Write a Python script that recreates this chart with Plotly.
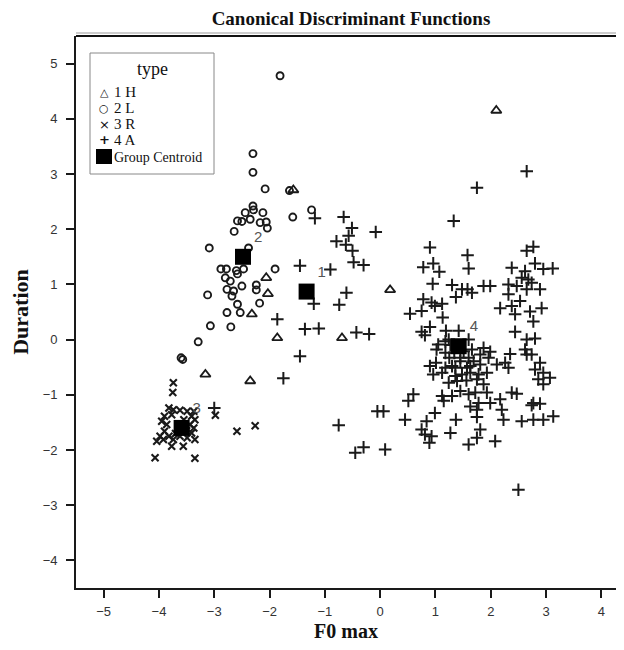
import plotly.graph_objects as go

# ---- data ----
h_x = [2.10, -1.57, -2.06, -2.03, -2.32, -1.86, 0.18, -0.69, -3.16, -2.35]
h_y = [4.15, 2.71, 1.12, 0.83, 0.46, 0.03, 0.90, 0.03, -0.63, -0.75]

l_x = [-2.30, -2.30, -2.08, -1.64, -2.30, -2.29, -2.44, -2.12, -2.35, -2.58, -2.50, -2.17, -2.06, -2.04,
       -1.58, -1.24, -2.64, -3.09, -2.38, -2.88, -2.78, -2.60, -2.47, -1.90, -2.80, -2.71, -2.58, -2.50,
       -2.77, -2.65, -2.68, -2.24, -2.24, -3.12, -2.58, -2.18, -2.77, -2.53, -3.07, -2.70, -3.29, -1.81,
       -3.60, -3.57]
l_y = [3.37, 3.03, 2.73, 2.70, 2.42, 2.35, 2.30, 2.30, 2.18, 2.15, 2.14, 2.12, 2.13, 2.02,
       2.22, 2.35, 1.96, 1.66, 1.66, 1.28, 1.28, 1.25, 1.28, 1.28, 1.12, 1.06, 1.19, 0.97,
       0.91, 0.88, 0.79, 0.99, 0.90, 0.81, 0.64, 0.66, 0.49, 0.49, 0.25, 0.23, -0.04, 4.78,
       -0.33, -0.36]

r_x = [-3.74, -3.75, -3.82, -3.74, -3.62, -3.49, -3.37, -3.90, -3.77, -3.41, -3.35, -3.95, -3.86, -3.44,
       -3.37, -3.41, -3.90, -3.98, -3.82, -4.04, -3.92, -3.74, -3.49, -3.35, -3.77, -3.56, -4.07, -3.35,
       -2.98, -2.59, -2.26, -3.55, -3.65, -3.70, -3.50, -3.62]
r_y = [-0.78, -0.96, -1.24, -1.27, -1.28, -1.30, -1.30, -1.39, -1.36, -1.39, -1.45, -1.48, -1.54, -1.54,
       -1.60, -1.69, -1.66, -1.75, -1.75, -1.84, -1.81, -1.81, -1.78, -1.81, -1.93, -1.93, -2.14, -2.15,
       -1.37, -1.66, -1.56, -1.45, -1.55, -1.70, -1.65, -1.75]

a_x = [0.90, 1.58, 0.78, 0.96, 1.07, 1.60, 0.95, 1.30, 1.48, 1.58, 1.66, 1.87, 1.99, 1.37, 0.78, 0.93,
       1.12, 0.99, 0.54, 0.75, 1.13, 0.90, 0.75, 0.81, 1.19, 1.42, 1.05, 1.02, 1.24, 1.60, 1.18, 1.66,
       1.87, 1.99, 0.90, 1.01, 0.96, 1.12, 1.30, 1.45, 1.57, 1.69, 1.81, 1.96, 2.11, 2.26, 2.32, 1.36,
       1.48, 1.63, 1.78, 1.93, 1.24, 1.39, 1.56, 1.75, 1.87, 1.45, 1.60, 1.72, 1.93, 0.60, 0.51, 1.12,
       1.15, 1.30, 1.78, 1.63, 1.99, 2.17, 2.38, 2.47, 1.75, 2.20, 0.99, 0.45, 0.84, 1.37, 1.75, 2.23,
       0.75, 0.81, 0.93, 0.89, 1.27, 1.81, 1.75, 1.60, 2.08, 2.56, 2.77, 2.95, 3.13, 2.74, 2.89, 0.09,
       0.06, 2.65, 2.77, 2.38, 2.62, 2.80, 2.95, 3.12, 2.56, 2.68, 2.74, 2.32, 2.47, 2.65, 2.89, 2.32,
       2.53, 2.38, 2.17, 2.44, 2.71, 2.92, 2.77, 2.44, 2.65, 2.80, 2.62, 2.65, 2.74, 2.35, 2.89, 2.80,
       2.95, 2.86, 3.07, 2.95, 2.77, 1.33, 1.18, 1.27, 1.34, 1.51, 1.45, 1.25, 1.60, 1.81, 1.36,
       1.18, 1.63, -1.18, -0.66, -0.51, -0.57, -0.79, -0.62, -0.50, -0.48, -1.45, -0.90, -0.61, -1.20,
       -0.74, -1.86, -1.36, -1.11, -0.43, -0.08, -0.20, -0.30, 2.65, 1.75, -1.45, -1.75, -0.75, -0.45,
       -0.30, -0.05, 2.50, -3.00]
a_y = [1.67, 1.53, 1.31, 1.38, 1.23, 1.29, 1.01, 0.99, 0.91, 0.91, 0.85, 0.97, 0.97, 0.77, 0.73, 0.67,
       0.65, 0.61, 0.47, 0.52, 0.40, 0.23, 0.14, 0.08, 0.16, 0.16, -0.09, -0.18, 0.00, 0.00, -0.24, -0.18,
       -0.15, -0.22, -0.48, -0.42, -0.63, -0.60, -0.48, -0.39, -0.51, -0.39, -0.45, -0.33, -0.45, -0.42,
       -0.51, -0.66, -0.63, -0.60, -0.63, -0.60, -0.78, -0.75, -0.74, -0.72, -0.81, -0.93, -0.99, -0.96,
       -0.96, -0.99, -1.11, -1.02, -1.11, -1.02, -1.15, -1.21, -1.15, -1.08, -0.96, -0.98, -1.27, -1.27,
       -1.33, -1.45, -1.48, -1.45, -1.40, -1.45, -1.63, -1.72, -1.75, -1.87, -1.69, -1.63, -1.78, -1.90,
       -1.84, -1.48, -1.45, -1.45, -1.39, -1.19, -1.16, -1.99, -1.30, 1.61, 1.68, 1.30, 1.24, 1.38, 1.28,
       1.29, 1.12, 1.09, 1.03, 1.00, 0.97, 0.91, 0.91, 0.82, 0.70, 0.61, 0.57, 0.46, 0.51, 0.57, 0.33,
       0.14, 0.00, 0.02, -0.18, -0.27, -0.27, -0.26, -0.42, -0.54, -0.60, -0.72, -0.69, -0.81, -1.15,
       2.15, -0.03, -0.10, -0.24, -0.21, -0.33, -0.33, -0.33, -0.27, -0.51, -0.51, -0.48, 2.20, 2.22,
       2.02, 1.88, 1.78, 1.72, 1.61, 1.40, 1.34, 1.27, 0.85, 0.65, 0.63, 0.37, 0.19, 0.20, 0.13, 1.95,
       0.10, 1.35, 3.05, 2.75, -0.30, -0.70, -1.55, -2.05, -1.95, -1.30, -2.72, -1.24]

cen_x = [-1.33, -2.48, -3.59, 1.42]
cen_y = [0.87, 1.50, -1.60, -0.12]
cen_labels = ["1", "2", "3", "4"]

x_ticks = [-5, -4, -3, -2, -1, 0, 1, 2, 3, 4]
y_ticks = [-4, -3, -2, -1, 0, 1, 2, 3, 4, 5]

# ---- layout geometry (pixels) ----
OFF = 8                      # page body margin in the browser
W, H = 608, 634
ML, MR, MT, MB = 68, 0, 28, 54
PW, PH = W - ML - MR, H - MT - MB
UNIT_X = 55.3
X0 = -5.5
X1 = X0 + PW / UNIT_X


def px(xs):
    """screen x -> paper"""
    return (xs - OFF - ML) / PW


def py(ys):
    """screen y -> paper"""
    return (H - MB - (ys - OFF)) / PH


ink = "#1a1a1a"
fig = go.Figure()
fig.add_trace(go.Scatter(x=h_x, y=h_y, mode="markers", name="1 H",
                         marker=dict(symbol="triangle-up-open", size=9, color=ink, line=dict(width=1.8, color=ink))))
fig.add_trace(go.Scatter(x=l_x, y=l_y, mode="markers", name="2 L",
                         marker=dict(symbol="circle-open", size=7, color=ink, line=dict(width=1.9, color=ink))))
fig.add_trace(go.Scatter(x=r_x, y=r_y, mode="markers", name="3 R",
                         marker=dict(symbol="x-thin-open", size=7, color=ink, line=dict(width=2.1, color=ink))))
fig.add_trace(go.Scatter(x=a_x, y=a_y, mode="markers", name="4 A",
                         marker=dict(symbol="cross-thin-open", size=9, color=ink, line=dict(width=2.0, color=ink))))
fig.add_trace(go.Scatter(x=cen_x, y=cen_y, mode="markers+text", name="Group Centroid",
                         text=cen_labels, textposition="top right",
                         textfont=dict(family="Liberation Sans", size=15, color="#555555"),
                         marker=dict(symbol="square", size=16, color="#000000")))

axis_common = dict(showgrid=False, zeroline=False, showline=True, linecolor=ink, linewidth=1.6,
                   ticks="outside", ticklen=8, tickwidth=1.6, tickcolor=ink,
                   tickfont=dict(family="Liberation Sans", size=13, color="#333333"))

fig.update_layout(
    width=W, height=H,
    margin=dict(l=ML, r=MR, t=MT, b=MB),
    paper_bgcolor="white", plot_bgcolor="white",
    showlegend=False,
    title=dict(text="<b>Canonical Discriminant Functions</b>", x=(351 - OFF) / W, xanchor="center",
               y=1 - (18 - OFF) / H, yanchor="middle",
               font=dict(family="Liberation Serif", size=19, color="#111111")),
    xaxis=dict(range=[X0, X1], tickvals=x_ticks, ticklabelstandoff=3,
               title=dict(text="<b>F0 max</b>", standoff=6,
                          font=dict(family="Liberation Serif", size=20, color="#111111")),
               **axis_common),
    yaxis=dict(range=[-4.5, 5.5], tickvals=y_ticks, ticklabelstandoff=6,
               title=dict(text="<b>Duration</b>", standoff=10,
                          font=dict(family="Liberation Serif", size=22, color="#111111")),
               **axis_common),
)

# top frame line (double)
fig.add_shape(type="line", xref="paper", yref="paper", x0=0, x1=1, y0=1, y1=1,
              line=dict(color="#111111", width=2))
fig.add_shape(type="line", xref="paper", yref="paper", x0=0, x1=1, y0=py(33), y1=py(33),
              line=dict(color="#9a9a9a", width=1))

# legend box (drawn manually to match the reference layout)
fig.add_shape(type="rect", xref="paper", yref="paper", x0=px(90), x1=px(214), y0=py(174), y1=py(53),
              line=dict(color="#888888", width=1), fillcolor="white", layer="above")
fig.add_annotation(xref="paper", yref="paper", x=px(152), y=py(69), text="type", showarrow=False,
                   xanchor="center", yanchor="middle",
                   font=dict(family="Liberation Serif", size=18, color="#111111"))
leg_items = [("\u25b3", "1 H", 92, 11), ("\u25cb", "2 L", 108, 11), ("\u00d7", "3 R", 124, 13), ("<b>+</b>", "4 A", 140, 13)]
for sym, lab, yy, fs in leg_items:
    fig.add_annotation(xref="paper", yref="paper", x=px(104), y=py(yy), text=sym, showarrow=False,
                       xanchor="center", yanchor="middle",
                       font=dict(family="DejaVu Sans", size=fs, color="#111111"))
    fig.add_annotation(xref="paper", yref="paper", x=px(112), y=py(yy), text=lab, showarrow=False,
                       xanchor="left", yanchor="middle",
                       font=dict(family="Liberation Serif", size=15, color="#111111"))
fig.add_shape(type="rect", xref="paper", yref="paper", x0=px(96), x1=px(112), y0=py(164), y1=py(149),
              line=dict(width=0), fillcolor="#000000", layer="above")
fig.add_annotation(xref="paper", yref="paper", x=px(112), y=py(157), text="Group Centroid", showarrow=False,
                   xanchor="left", yanchor="middle",
                   font=dict(family="Liberation Serif", size=14, color="#111111"))

fig.write_html("out.html")
